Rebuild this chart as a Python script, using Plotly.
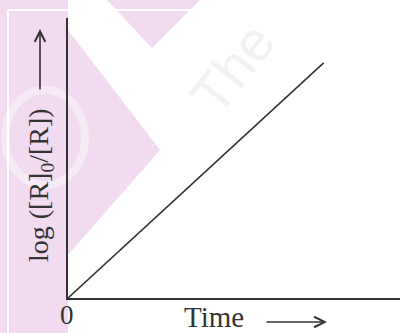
import plotly.graph_objects as go

# straight line through the origin: first order reaction
time = [0, 7.7]
log_ratio = [0, 8.4]

x_label = "Time"
y_label = "log ([R]<sub>0</sub>/[R])"

ink = "#333333"
pink = "#f2daf1"
serif = "Liberation Serif, Times New Roman, serif"

# plot area in pixels: x 68..400, y 18..298
def px(X):
    return (X - 68) / 332.0

def py(Y):
    return (298 - Y) / 280.0

def path(pts):
    return "M " + " L ".join("%.4f,%.4f" % (px(a), py(b)) for a, b in pts) + " Z"

def note(text, X, Y, size, angle=0, color=ink, family=serif):
    fig.add_annotation(text=text, x=px(X), y=py(Y), xref="paper", yref="paper",
                       xanchor="center", yanchor="middle", showarrow=False,
                       textangle=angle, font=dict(family=family, size=size, color=color))

fig = go.Figure()
fig.add_trace(go.Scatter(x=time, y=log_ratio, mode="lines",
                         line=dict(color=ink, width=1.6), hoverinfo="skip"))

# faint watermark in the background
shapes = []
for pts, col in [
    ([(0, 0), (68, 0), (68, 333), (0, 333)], pink),
    ([(68, 30), (160, 150), (68, 255)], pink),
    ([(107, 0), (200, 0), (152, 48)], pink),
]:
    shapes.append(dict(type="path", path=path(pts), xref="paper", yref="paper",
                       fillcolor=col, line=dict(width=0), layer="below"))
shapes.append(dict(type="circle", xref="paper", yref="paper",
                   x0=px(5), x1=px(85), y0=py(90), y1=py(185),
                   line=dict(color="#f7eaf7", width=8), layer="below"))
shapes.append(dict(type="line", xref="paper", yref="paper",
                   x0=px(8), x1=px(8), y0=py(10), y1=py(333),
                   line=dict(color="white", width=2), layer="below"))
shapes.append(dict(type="line", xref="paper", yref="paper",
                   x0=px(8), x1=px(290), y0=py(10), y1=py(10),
                   line=dict(color="white", width=2), layer="below"))

fig.update_layout(
    width=400, height=333,
    margin=dict(l=68, r=0, t=18, b=35),
    paper_bgcolor="white", plot_bgcolor="rgba(0,0,0,0)",
    showlegend=False,
    shapes=shapes,
    xaxis=dict(range=[0, 10], showgrid=False, zeroline=False, showticklabels=False,
               showline=True, linecolor=ink, linewidth=2),
    yaxis=dict(range=[0, 10], showgrid=False, zeroline=False, showticklabels=False,
               showline=True, linecolor=ink, linewidth=2),
)

note("The", 232, 68, 56, angle=-52, color="#f3f3f3", family="Liberation Sans, sans-serif")
note("0", 67, 315, 27)
note(x_label, 214, 317, 29)
note(y_label, 40, 185, 28, angle=-90)

# the two arrows next to the labels
fig.add_annotation(text="", x=px(327), y=py(322), xref="paper", yref="paper",
                   ax=-62, ay=0, showarrow=True, arrowhead=5, arrowsize=1.3,
                   arrowwidth=1.6, arrowcolor=ink)
fig.add_annotation(text="", x=px(40), y=py(29), xref="paper", yref="paper",
                   ax=0, ay=62, showarrow=True, arrowhead=5, arrowsize=1.3,
                   arrowwidth=1.6, arrowcolor=ink)

fig.write_html("out.html", config={"displayModeBar": False},
               post_script="document.body.style.margin='0';")
